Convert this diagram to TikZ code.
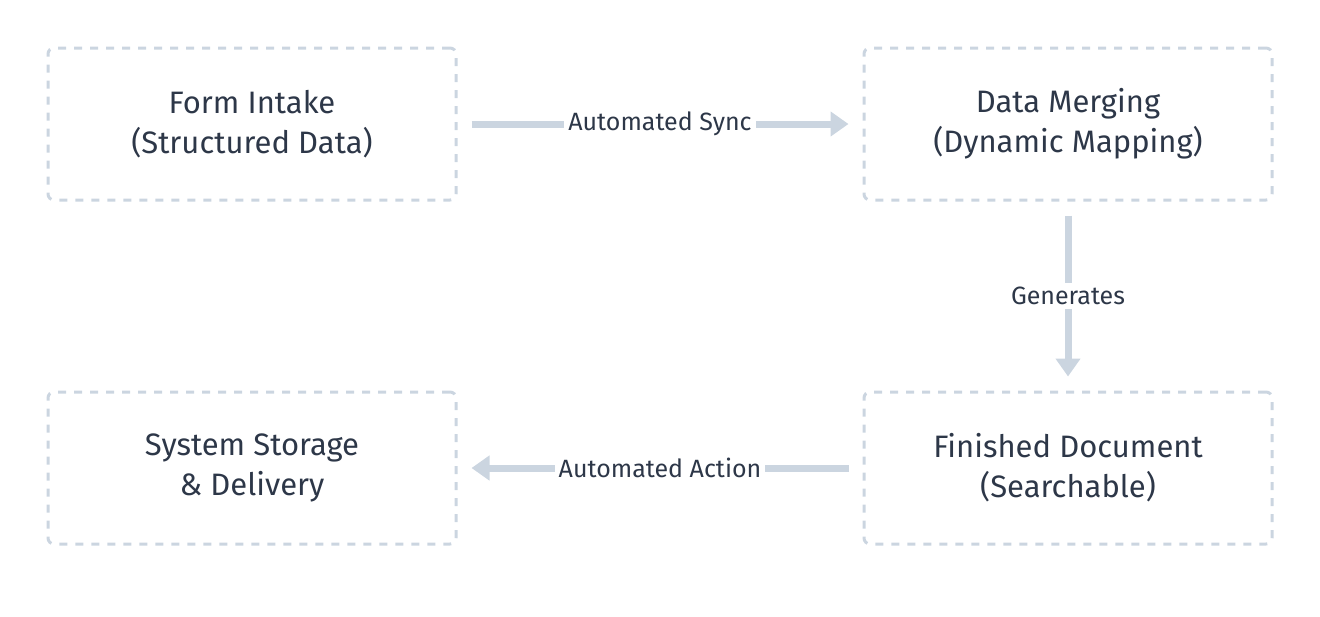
\documentclass[tikz,border=0pt]{standalone}
\usepackage{fontspec}
\setmainfont{Fira Sans}
\usetikzlibrary{arrows.meta}
\definecolor{txt}{HTML}{2D3748}
\definecolor{ln}{HTML}{CBD5E0}
\begin{document}
\begin{tikzpicture}[x=0.5pt,y=-0.5pt,
  box/.style={draw=ln,line width=1.5pt,dash pattern=on 4pt off 4pt,rounded corners=3pt,minimum width=204pt,minimum height=76pt,align=center,text=txt,font=\fontsize{15.5}{20}\selectfont},
  conn/.style={draw=ln,line width=3.5pt,-{Triangle[length=9pt,width=12pt]}},
  lab/.style={fill=white,text=txt,font=\fontsize{12.5}{15}\selectfont,inner sep=2pt}]
\useasboundingbox (0,0) rectangle (1320,616);
\node[box] (a) at (252,124) {Form Intake\\(Structured Data)};
\node[box] (b) at (1068,124) {Data Merging\\(Dynamic Mapping)};
\node[box] (c) at (1068,468) {Finished Document\\(Searchable)};
\node[box] (d) at (252,468) {System Storage\\\& Delivery};
\draw[conn] ([xshift=7pt]a.east) -- node[lab]{Automated Sync} ([xshift=-7pt]b.west);
\draw[conn] ([yshift=-7pt]b.south) -- node[lab]{Generates} ([yshift=7pt]c.north);
\draw[conn] ([xshift=-7pt]c.west) -- node[lab]{Automated Action} ([xshift=7pt]d.east);
\end{tikzpicture}
\end{document}
